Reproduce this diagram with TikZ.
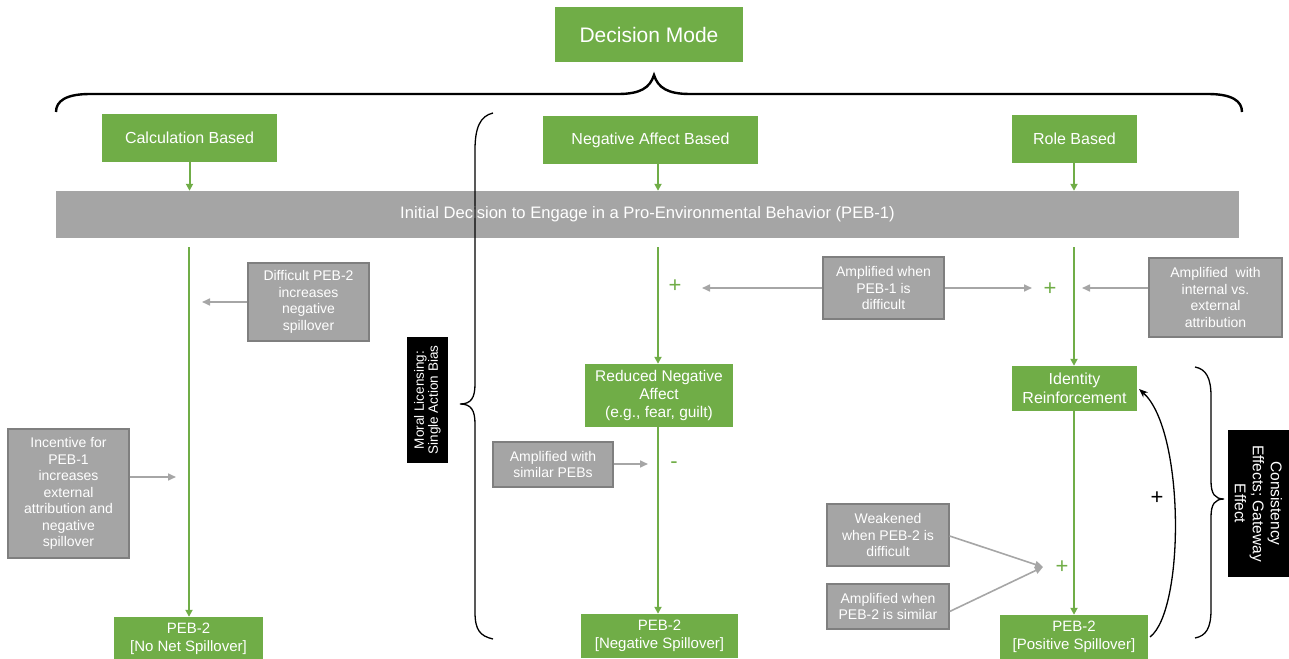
\documentclass[tikz,border=0pt]{standalone}
\usepackage{fontspec}
\setmainfont{Liberation Sans}
\usetikzlibrary{arrows.meta,calc}
\definecolor{pgreen}{HTML}{70AD47}
\definecolor{pgray}{HTML}{A5A5A5}
\definecolor{pgrayb}{HTML}{7F7F7F}
\definecolor{agray}{HTML}{A6A6A6}
\newcommand{\fsz}[2]{\fontsize{#1bp}{#2bp}\selectfont}
\begin{document}
\begin{tikzpicture}[x=1bp,y=-1bp,
 gbox/.style={fill=pgreen,text=white,inner sep=0pt,align=center,font=\fsz{16}{18}},
 sbox/.style={fill=pgray,draw=pgrayb,line width=1.3bp,text=white,inner sep=0pt,align=center,font=\fsz{14}{16.5}},
 bbox/.style={fill=black,text=white,inner sep=0pt,align=center},
 garr/.style={draw=pgreen,line width=2bp,-{Triangle[length=7bp,width=7bp]}},
 sarr/.style={draw=agray,line width=1.6bp,-{Triangle[length=8bp,width=7bp]}},
 sign/.style={inner sep=0pt,font=\fsz{22}{22}},
 bracel/.style={draw=black,line width=1.3bp}
]
\useasboundingbox (0,0) rectangle (1289,659);

% top
\node[gbox,font=\fsz{21}{22},minimum width=188bp,minimum height=55bp] (dm) at (649,34.5) {Decision Mode};
\draw[black,line width=2.4bp] (56,112) .. controls (56,101) and (66,94) .. (90,94) -- (618,94)
  .. controls (640,94) and (650,88) .. (654,75) .. controls (658,88) and (668,94) .. (690,94)
  -- (1208,94) .. controls (1232,94) and (1242,101) .. (1242,112);

\node[gbox,minimum width=175bp,minimum height=48bp] (calc) at (189.5,138) {Calculation Based};
\node[gbox,minimum width=215bp,minimum height=48bp] (neg) at (650.5,140) {Negative Affect Based};
\node[gbox,minimum width=125bp,minimum height=48bp] (role) at (1074.5,139) {Role Based};

\node[fill=pgray,text=white,inner sep=0pt,minimum width=1183bp,minimum height=47bp,font=\fsz{16.6}{18}] (bar) at (647.5,214.5) {Initial Decision to Engage in a Pro-Environmental Behavior (PEB-1)};

\coordinate (cL) at (189,0);
\coordinate (cM) at (658,0);
\coordinate (cR) at (1074,0);

\draw[garr] (calc.south) -- (calc.south |- bar.north);
\draw[garr] (cM |- neg.south) -- (cM |- bar.north);
\draw[garr] (cR |- role.south) -- (cR |- bar.north);

% left column
\node[gbox,font=\fsz{15}{18},minimum width=149bp,minimum height=44bp] (pa) at (188.5,639) {PEB-2\\{[}No Net Spillover{]}};
\coordinate (la) at (189,247);
\draw[garr] (la) -- (cL |- pa.north);
\node[sbox,minimum width=121bp,minimum height=78bp] (diff) at (308.5,302) {Difficult PEB-2\\increases\\negative\\spillover};
\coordinate (difft) at (202,302);
\draw[sarr] (diff.west) -- (difft);
\node[sbox,minimum width=121bp,minimum height=129bp] (inc) at (68.5,493.5) {Incentive for\\PEB-1\\increases\\external\\attribution and\\negative\\spillover};
\coordinate (inct) at (176,477);
\draw[sarr] (inc.east |- inct) -- (inct);

% moral licensing
\node[bbox,rotate=90,minimum width=126bp,minimum height=41bp,font=\fsz{13.5}{14}] (moral) at (427.5,400) {Moral Licensing:\\Single Action Bias};
\draw[bracel] (493,113) .. controls (480,116) and (475,128) .. (475,150) -- (475,384)
  .. controls (475,398) and (471,404) .. (460,404) .. controls (471,404) and (475,410) .. (475,424)
  -- (475,612) .. controls (475,630) and (480,636) .. (493,639);

% middle column
\node[gbox,font=\fsz{15.5}{18},minimum width=148bp,minimum height=63bp] (red) at (659,395.5) {Reduced Negative\\Affect\\(e.g., fear, guilt)};
\node[gbox,font=\fsz{15}{18},minimum width=157bp,minimum height=44bp] (pb) at (659.5,636) {PEB-2\\{[}Negative Spillover{]}};
\coordinate (ma) at (658,247);
\draw[garr] (ma) -- (cM |- red.north);
\draw[garr] (cM |- red.south) -- (cM |- pb.north);
\node[sign,text=pgreen] (p1) at (675,286) {+};
\node[sign,text=pgreen] (m1) at (674,465) {-};
\node[sbox,minimum width=120bp,minimum height=45bp] (sim) at (553,464.5) {Amplified with\\similar PEBs};
\coordinate (simt) at (648,464);
\draw[sarr] (sim.east |- simt) -- (simt);

\node[sbox,minimum width=121bp,minimum height=62bp] (amp1) at (883.5,288) {Amplified when\\PEB-1 is\\difficult};
\coordinate (a1l) at (702,288);
\coordinate (a1r) at (1032,288);
\draw[sarr] (amp1.west) -- (a1l);
\draw[sarr] (amp1.east) -- (a1r);
\node[sign,text=pgreen] (p2) at (1050,289) {+};

% right column
\node[gbox,font=\fsz{16}{19},minimum width=125bp,minimum height=45bp] (ident) at (1074.5,388.5) {Identity\\Reinforcement};
\node[gbox,font=\fsz{15}{18},minimum width=148bp,minimum height=44bp] (pc) at (1074,637) {PEB-2\\{[}Positive Spillover{]}};
\coordinate (ra) at (1074,247);
\draw[garr] (ra) -- (cR |- ident.north);
\draw[garr] (cR |- ident.south) -- (cR |- pc.north);
\node[sbox,minimum width=133bp,minimum height=79bp] (int) at (1215.5,297.5) {Amplified\ \ with\\internal vs.\\external\\attribution};
\coordinate (intt) at (1082,288);
\draw[sarr] (int.west |- intt) -- (intt);

\node[sbox,minimum width=122bp,minimum height=62bp] (weak) at (888,535) {Weakened\\when PEB-2 is\\difficult};
\node[sbox,minimum width=122bp,minimum height=45bp] (asim) at (888,606.5) {Amplified when\\PEB-2 is similar};
\coordinate (meet) at (1043,567);
\draw[sarr] ([yshift=-1bp]weak.east) -- (meet);
\draw[sarr] ([yshift=-5bp]asim.east) -- (meet);
\node[sign,text=pgreen] (p3) at (1062,567) {+};

% feedback curve
\coordinate (cs) at (1150,637);
\coordinate (ce) at (1139,389);
\draw[black,line width=1.3bp,-{Stealth[length=9bp,width=7bp]}] (cs) .. controls (1185,610) and (1185,430) .. (ce);
\node[sign,text=black] (p4) at (1157,498) {+};

% right brace and box
\draw[bracel] (1195,367) .. controls (1206,369) and (1211,378) .. (1211,396) -- (1211,481)
  .. controls (1211,494) and (1215,499) .. (1224,499) .. controls (1215,499) and (1211,504) .. (1211,517)
  -- (1211,610) .. controls (1211,628) and (1206,636) .. (1195,638);
\node[bbox,rotate=-90,minimum width=147bp,minimum height=61bp,font=\fsz{15.5}{18}] (cons) at (1258.5,503.5) {Consistency\\Effects; Gateway\\Effect};
\end{tikzpicture}
\end{document}
